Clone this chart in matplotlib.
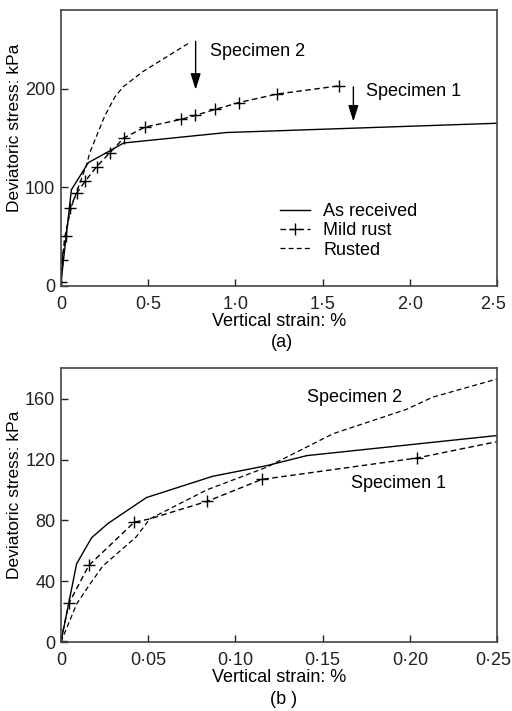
import matplotlib
matplotlib.use("Agg")
import matplotlib.pyplot as plt
import matplotlib.transforms as mtransforms

plt.rcParams["font.family"] = ["Liberation Sans", "DejaVu Sans"]
plt.rcParams["font.size"] = 13

# (a) full range
a_recv_x = [0.0, 0.06, 0.157, 0.28, 0.36, 0.95, 2.5]
a_recv_y = [3, 97.5, 125, 137, 145, 155.6, 165]

a_mild_x = [0.0, 0.004, 0.029, 0.052, 0.09, 0.138, 0.205, 0.28, 0.36, 0.48,
            0.69, 0.77, 0.883, 1.02, 1.237, 1.595]
a_mild_y = [4, 26, 51, 79, 94, 106, 121, 135, 150, 161,
            169, 173, 179, 186, 194.6, 203]

a_rust_x = [0.0, 0.02, 0.06, 0.1, 0.147, 0.165, 0.195, 0.25, 0.31, 0.357, 0.47, 0.73]
a_rust_y = [0, 48, 80, 100, 123, 135, 148, 172, 192, 202, 217.5, 246]

# (b) small strains
b_recv_x = [0.0, 0.009, 0.0176, 0.027, 0.049, 0.087, 0.118, 0.141, 0.25]
b_recv_y = [0, 51.5, 68.6, 78, 95, 109, 116, 122.6, 135.8]

b_mild_x = [0.0, 0.0046, 0.016, 0.042, 0.051, 0.084, 0.115, 0.204, 0.25]
b_mild_y = [1, 25.5, 50.4, 78.8, 81, 92.6, 106.9, 121, 131.8]
b_mild_marks = [0, 1, 2, 3, 5, 6, 7]

b_rust_x = [0.0, 0.009, 0.0166, 0.024, 0.043, 0.051, 0.0835, 0.118, 0.156, 0.198, 0.213, 0.25]
b_rust_y = [0, 25, 38, 50, 69, 81, 100, 115, 137, 153, 161, 173]

a_xticks = [0, 0.5, 1.0, 1.5, 2.0, 2.5]
a_xlabels = ["0", "0·5", "1·0", "1·5", "2·0", "2·5"]
a_yticks = [0, 100, 200]
b_xticks = [0, 0.05, 0.10, 0.15, 0.20, 0.25]
b_xlabels = ["0", "0·05", "0·10", "0·15", "0·20", "0·25"]
b_yticks = [0, 40, 80, 120, 160]

fig = plt.figure(figsize=(5.12, 7.11), dpi=100)
ax1 = fig.add_axes([0.119, 0.598, 0.852, 0.388])
ax2 = fig.add_axes([0.119, 0.097, 0.852, 0.385])

dash = (0, (4, 2.5))

ax1.plot(a_recv_x, a_recv_y, "-", color="black", lw=1.0, label="As received")
ax1.plot(a_mild_x, a_mild_y, linestyle=dash, marker="+", ms=9, mew=1.0,
         color="black", lw=1.0, label="Mild rust")
ax1.plot(a_rust_x, a_rust_y, linestyle=dash, color="black", lw=0.9, label="Rusted")

ax2.plot(b_recv_x, b_recv_y, "-", color="black", lw=1.0)
ax2.plot(b_mild_x, b_mild_y, linestyle=dash, marker="+", markevery=b_mild_marks,
         ms=9, mew=1.0, color="black", lw=1.0)
ax2.plot(b_rust_x, b_rust_y, linestyle=dash, color="black", lw=0.9)

# annotations
arrow = dict(arrowstyle="-|>,head_length=0.7,head_width=0.22", color="black",
             lw=1.0, mutation_scale=14, shrinkA=0, shrinkB=0)
ax1.annotate("", xy=(0.772, 199), xytext=(0.772, 248), arrowprops=arrow)
ax1.text(0.854, 238, "Specimen 2", va="center", ha="left")
ax1.annotate("", xy=(1.676, 166.7), xytext=(1.676, 202), arrowprops=arrow)
ax1.text(1.75, 197, "Specimen 1", va="center", ha="left")

ax2.text(0.1412, 161, "Specimen 2", va="center", ha="left")
ax2.text(0.166, 104, "Specimen 1", va="center", ha="left")

ax1.legend(loc="center left", bbox_to_anchor=(0.502, 0.199), frameon=False,
           handlelength=1.67, handletextpad=0.72, labelspacing=0.12,
           borderaxespad=0, borderpad=0)

for ax, xt, xl, yt, xmax, ymax, ylab_y in [
    (ax1, a_xticks, a_xlabels, a_yticks, 2.5, 280, 0.572),
    (ax2, b_xticks, b_xlabels, b_yticks, 0.25, 180, 0.538),
]:
    ax.set_xlim(0, xmax)
    ax.set_ylim(0, ymax)
    ax.set_xticks(xt)
    ax.set_xticklabels(xl)
    ax.set_yticks(yt)
    ax.tick_params(direction="in", length=5, width=1.0, labelsize=13,
                   colors="#222222")
    ax.tick_params(axis="x", pad=7)
    ax.tick_params(axis="y", pad=4)
    for s in ax.spines.values():
        s.set_color("#444444")
        s.set_linewidth(1.2)
    ax.set_xlabel("Vertical strain: %", labelpad=0)
    ax.set_ylabel("Deviatoric stress: kPa", fontsize=12.5)
    ax.yaxis.set_label_coords(-0.09, ylab_y)
    # keep the last x tick label inside the figure
    last = ax.get_xticklabels()[-1]
    last.set_transform(last.get_transform() +
                       mtransforms.ScaledTranslation(-4 / 100, 0, fig.dpi_scale_trans))

fig.text(0.551, 1 - 343 / 711, "(a)", ha="center", va="center", fontsize=13)
fig.text(0.553, 1 - 700 / 711, "(b )", ha="center", va="center", fontsize=13)

fig.savefig("out.png", dpi=100)
